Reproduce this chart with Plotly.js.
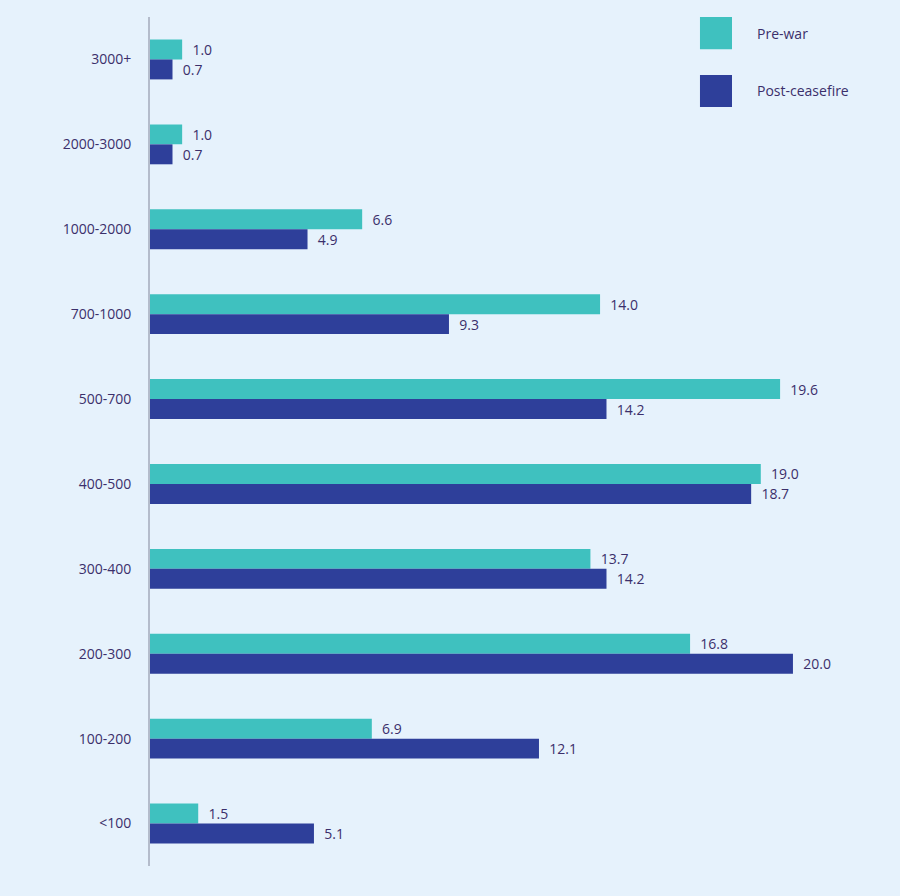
<!DOCTYPE html>
<html>
<head>
<meta charset="utf-8">
<script src="https://cdn.plot.ly/plotly-3.0.1.min.js"></script>
<style>body{margin:0;background:#e6f2fc;}</style>
</head>
<body>
<div id="chart" style="width:900px;height:896px;"></div>
<script>
// price bands, top to bottom
var bands = ['3000+', '2000-3000', '1000-2000', '700-1000', '500-700', '400-500', '300-400', '200-300', '100-200', '<100'];
var preWar = [1.0, 1.0, 6.6, 14.0, 19.6, 19.0, 13.7, 16.8, 6.9, 1.5];
var postCeasefire = [0.7, 0.7, 4.9, 9.3, 14.2, 18.7, 14.2, 20.0, 12.1, 5.1];

var labelFont = {family: 'Open Sans', size: 14, color: '#3b2f6b'};

var trace1 = {
  y: bands, x: preWar, name: 'Pre-war', type: 'bar', orientation: 'h',
  marker: {color: '#3fc1bf'},
  text: preWar.map(v => '  ' + v.toFixed(1)), textposition: 'outside', cliponaxis: false,
  textfont: labelFont, hoverinfo: 'none'
};
var trace2 = {
  y: bands, x: postCeasefire, name: 'Post-ceasefire', type: 'bar', orientation: 'h',
  marker: {color: '#2e3f9a'},
  text: postCeasefire.map(v => '  ' + v.toFixed(1)), textposition: 'outside', cliponaxis: false,
  textfont: labelFont, hoverinfo: 'none'
};

var layout = {
  width: 900, height: 896,
  paper_bgcolor: '#e6f2fc', plot_bgcolor: '#e6f2fc',
  margin: {l: 150, r: 0, t: 17, b: 30},
  barmode: 'group', bargap: 0.53, bargroupgap: 0,
  showlegend: false,
  font: labelFont,
  xaxis: {range: [0, 23.33], visible: false, showgrid: false, zeroline: false},
  yaxis: {type: 'category', range: [9.5, -0.5], showline: true, linecolor: '#b4bccb', linewidth: 2,
          showgrid: false, ticks: '', ticklabelstandoff: 14, tickfont: labelFont},
  shapes: [
    {type: 'rect', xref: 'paper', yref: 'paper', x0: 0.7333, x1: 0.776, y0: 0.962, y1: 1.0, fillcolor: '#3fc1bf', line: {width: 0}},
    {type: 'rect', xref: 'paper', yref: 'paper', x0: 0.7333, x1: 0.776, y0: 0.894, y1: 0.9317, fillcolor: '#2e3f9a', line: {width: 0}}
  ],
  annotations: [
    {xref: 'paper', yref: 'paper', x: 0.807, y: 0.981, yanchor: 'middle', text: 'Pre-war', showarrow: false, xanchor: 'left', font: labelFont},
    {xref: 'paper', yref: 'paper', x: 0.807, y: 0.913, yanchor: 'middle', text: 'Post-ceasefire', showarrow: false, xanchor: 'left', font: labelFont}
  ]
};

Plotly.newPlot('chart', [trace1, trace2], layout, {displayModeBar: false});
</script>
</body>
</html>
